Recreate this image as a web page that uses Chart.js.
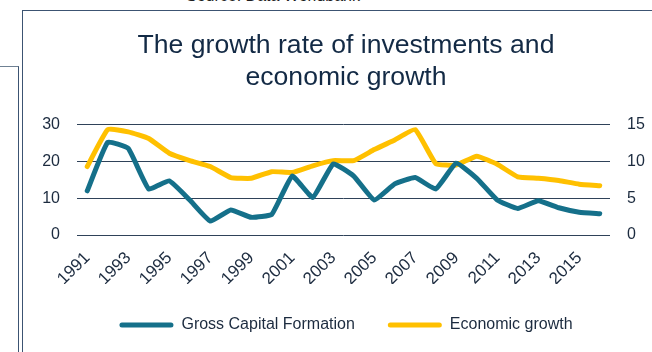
<!DOCTYPE html>
<html>
<head>
<meta charset="utf-8">
<script src="https://cdn.jsdelivr.net/npm/chart.js@4.4.1/dist/chart.umd.min.js"></script>
<style>
  html, body { margin: 0; padding: 0; background: #ffffff; overflow: hidden; }
  body { width: 652px; height: 352px; position: relative; font-family: "Liberation Sans", Arial, sans-serif; }
  .source { position: absolute; left: 186px; top: -13px; font-size: 16px; line-height: 18px; color: #1e1e1e; white-space: nowrap; }
  .frame-main { position: absolute; left: 22px; top: 10px; width: 700px; height: 400px; border-top: 1px solid #3c5472; border-left: 1px solid #3c5472; }
  .frame-side { position: absolute; left: -10px; top: 66px; width: 28px; height: 400px; border-top: 1px solid #6f8193; border-right: 1px solid #3c5472; }
  .chart-wrap { position: absolute; left: 22px; top: 10px; width: 648px; height: 342px; }
</style>
</head>
<body>
<div class="source">Source: Data Worldbank</div>
<div class="frame-side"></div>
<div class="frame-main"></div>
<div class="chart-wrap"><canvas id="chart"></canvas></div>
<script>
// Years on the category axis
const years = ['1991','1992','1993','1994','1995','1996','1997','1998','1999','2000',
               '2001','2002','2003','2004','2005','2006','2007','2008','2009','2010',
               '2011','2012','2013','2014','2015','2016'];

// Gross capital formation growth, % (left axis)
const capitalFormation = [12.0, 25.2, 23.5, 12.5, 14.7, 9.5, 3.8, 6.8, 4.8, 5.6,
                          16.0, 10.2, 19.3, 16.0, 9.5, 13.9, 15.6, 12.5, 19.5, 15.4,
                          9.5, 7.2, 9.3, 7.4, 6.2, 5.8];

// GDP growth, % (right axis)
const economicGrowth = [9.3, 14.3, 14.0, 13.1, 11.1, 10.1, 9.3, 7.8, 7.7, 8.6,
                        8.5, 9.4, 10.1, 10.1, 11.6, 12.9, 14.3, 9.7, 9.5, 10.7,
                        9.6, 7.9, 7.7, 7.4, 6.9, 6.7];

// Axis tick values
const leftTicks = [0, 10, 20, 30];
const rightTicks = [0, 5, 10, 15];

const titleLines = ['The growth rate of investments and', 'economic growth'];
const seriesNames = ['Gross Capital Formation', 'Economic growth'];

const TEAL = '#15708a';
const GOLD = '#ffc000';
const TEXT = '#1c2b3f';
const GRID = '#2f4259';
const FONT = '"Liberation Sans", Arial, sans-serif';

new Chart(document.getElementById('chart'), {
  type: 'line',
  data: {
    labels: years,
    datasets: [
      {
        label: seriesNames[0],
        data: capitalFormation,
        yAxisID: 'y',
        borderColor: TEAL,
        backgroundColor: TEAL,
        borderWidth: 5,
        borderCapStyle: 'round',
        borderJoinStyle: 'round',
        pointRadius: 0,
        pointHoverRadius: 0,
        tension: 0.12
      },
      {
        label: seriesNames[1],
        data: economicGrowth,
        yAxisID: 'y1',
        borderColor: GOLD,
        backgroundColor: GOLD,
        borderWidth: 5,
        borderCapStyle: 'round',
        borderJoinStyle: 'round',
        pointRadius: 0,
        pointHoverRadius: 0,
        tension: 0.12
      }
    ]
  },
  options: {
    responsive: true,
    maintainAspectRatio: false,
    animation: false,
    layout: { padding: { top: 0, left: 0, right: 0, bottom: 9 } },
    plugins: {
      tooltip: { enabled: false },
      title: {
        display: true,
        text: titleLines,
        color: '#132a45',
        font: { family: FONT, size: 26.6, weight: 'normal', lineHeight: 1.2 },
        padding: { top: 20, bottom: 30.7 }
      },
      legend: {
        position: 'bottom',
        labels: {
          color: TEXT,
          font: { family: FONT, size: 16 },
          boxWidth: 54,
          boxHeight: 5,
          padding: 33,
          useBorderRadius: true,
          borderRadius: 2.5,
          generateLabels(chart) {
            return chart.data.datasets.map((ds, i) => ({
              text: ds.label,
              fillStyle: ds.borderColor,
              strokeStyle: ds.borderColor,
              lineWidth: 0,
              fontColor: TEXT,
              hidden: false,
              datasetIndex: i,
              borderRadius: 2.5
            }));
          }
        }
      }
    },
    scales: {
      x: {
        offset: true,
        grid: { display: false, drawTicks: false, offset: true },
        border: { display: false },
        ticks: {
          autoSkip: false,
          maxRotation: 45,
          minRotation: 45,
          padding: 13,
          color: TEXT,
          font: { family: FONT, size: 17 },
          callback(value, index) { return index % 2 === 0 ? years[index] : ''; }
        },
        afterFit(scale) { scale.height = 49; }
      },
      y: {
        position: 'left',
        min: leftTicks[0],
        max: leftTicks[leftTicks.length - 1],
        afterBuildTicks(scale) { scale.ticks = leftTicks.map(v => ({ value: v })); },
        grid: { color: GRID, lineWidth: 1, drawTicks: false },
        border: { display: false },
        ticks: { padding: 17, color: TEXT, font: { family: FONT, size: 16 } },
        afterFit(scale) { scale.width = 55; }
      },
      y1: {
        position: 'right',
        min: rightTicks[0],
        max: rightTicks[rightTicks.length - 1],
        afterBuildTicks(scale) { scale.ticks = rightTicks.map(v => ({ value: v })); },
        grid: { display: false, drawTicks: false },
        border: { display: false },
        ticks: { padding: 17, color: TEXT, font: { family: FONT, size: 16 } },
        afterFit(scale) { scale.width = 60; }
      }
    }
  }
});
</script>
</body>
</html>
